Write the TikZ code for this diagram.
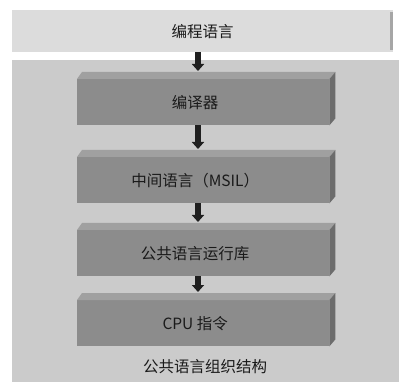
\documentclass[tikz,border=0pt]{standalone}
\usepackage{fontspec}
\newfontfamily\cjk{Noto Sans CJK SC}
\usetikzlibrary{arrows.meta}
\definecolor{barfill}{HTML}{DCDCDC}
\definecolor{panelfill}{HTML}{CBCBCB}
\definecolor{boxfront}{HTML}{8C8C8C}
\definecolor{boxtop}{HTML}{A0A0A0}
\definecolor{boxside}{HTML}{6C6C6C}
\definecolor{txt}{HTML}{1A1A1A}
\begin{document}
\begin{tikzpicture}[x=1pt,y=-1pt,
  every node/.style={font=\cjk\fontsize{15.5}{18}\selectfont, text=txt},
  stage/.style={fill=boxfront, minimum width=252pt, minimum height=46pt, inner sep=0pt, anchor=north west},
  flowarrow/.style={draw=black!88, line width=5.5pt, -{Triangle[width=12pt,length=7pt]}, shorten >=1pt}
]
\useasboundingbox (0,0) rectangle (399,382);
\fill[white] (0,0) rectangle (399,382);
% top bar
\node[fill=barfill, minimum width=381pt, minimum height=42pt, inner sep=0pt, anchor=north west] (lang) at (12,10) {编程语言};
\fill[gray!70] (390,12) rectangle (393,50);
% panel
\node[fill=panelfill, minimum width=387pt, minimum height=322pt, inner sep=0pt, anchor=north west] (panel) at (12,60) {};
% stages
\newcommand{\stagebox}[3]{%
  \node[stage] (#1) at (77,#2) {\kern-16pt#3};
  \fill[boxtop] (#1.north west) -- ++(5,-7) -- ([shift={(6,-7)}]#1.north east) -- (#1.north east) -- cycle;
  \fill[boxside] (#1.north east) -- ++(6,-7) -- ([shift={(6,-7)}]#1.south east) -- (#1.south east) -- cycle;
}
\stagebox{comp}{79}{编译器}
\stagebox{msil}{157}{中间语言（MSIL）}
\stagebox{clr}{230}{公共语言运行库}
\stagebox{cpu}{300}{CPU 指令}
\node (cap) at (205,367) {公共语言组织结构};
% arrows
\coordinate (a0) at (198,52);
\coordinate (a1) at (198,72);
\coordinate (a2) at (198,150);
\coordinate (a3) at (198,223);
\coordinate (a4) at (198,293);
\draw[flowarrow] (a0) -- (a1);
\draw[flowarrow] (comp.south -| a0) -- (a2);
\draw[flowarrow] (msil.south -| a0) -- (a3);
\draw[flowarrow] (clr.south -| a0) -- (a4);
\end{tikzpicture}
\end{document}
